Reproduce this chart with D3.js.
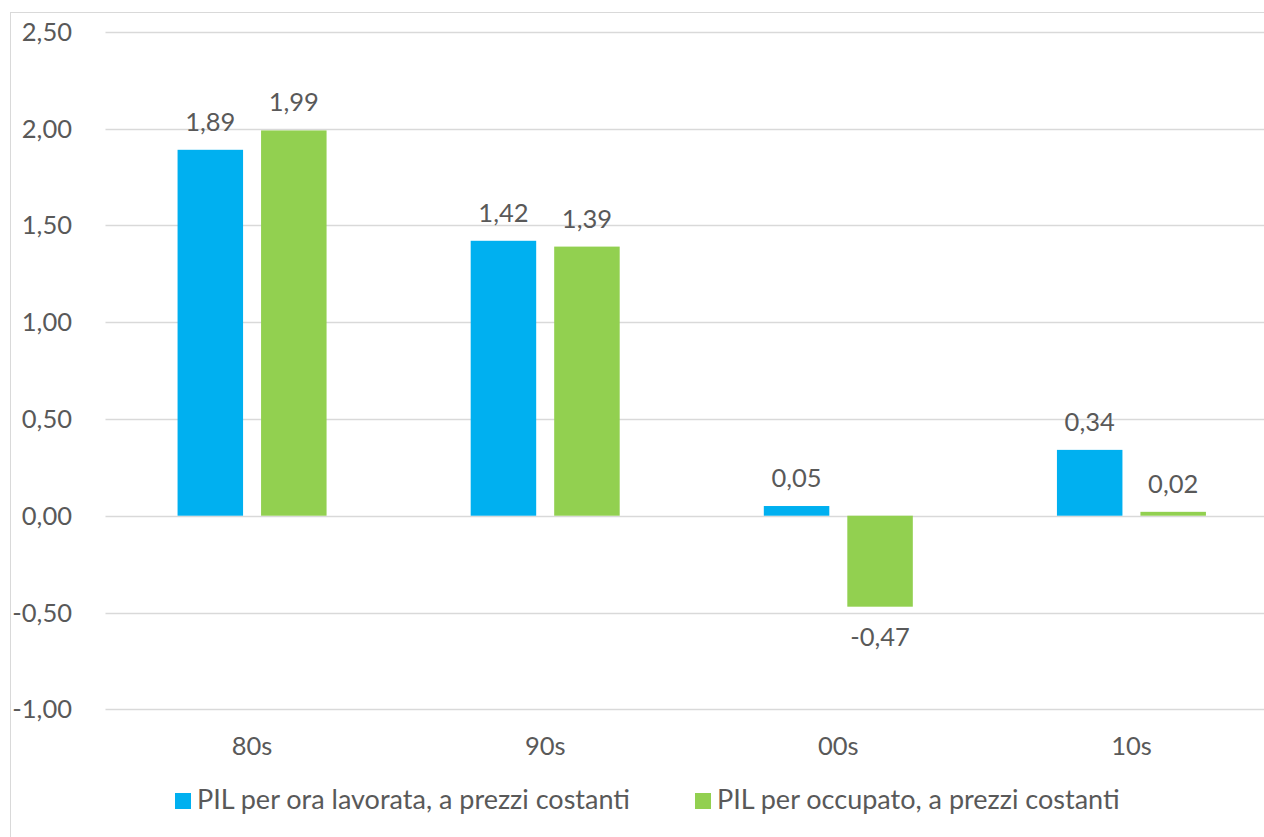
<!DOCTYPE html>
<html>
<head>
<meta charset="utf-8">
<script src="https://cdn.jsdelivr.net/npm/d3@7"></script>
<style>
  body { margin: 0; background: #fff; }
  text { font-family: Lato, "Open Sans", sans-serif; fill: #595959; }
</style>
</head>
<body>
<div id="chart"></div>
<script>
// chart data
var categories = ["80s", "90s", "00s", "10s"];
var seriesNames = ["PIL per ora lavorata, a prezzi costanti", "PIL per occupato, a prezzi costanti"];
var perOra = [1.89, 1.42, 0.05, 0.34];
var perOccupato = [1.99, 1.39, -0.47, 0.02];
var yTicks = [-1, -0.5, 0, 0.5, 1, 1.5, 2, 2.5];
var colors = ["#00B0F0", "#92D050"];

var svgWidth = 1264;
var svgHeight = 837;

var plot = { left: 105.5, right: 1278, top: 31.7, bottom: 709.3 };

var svg = d3.select("#chart")
  .append("svg")
  .attr("width", svgWidth)
  .attr("height", svgHeight);

// outer chart border (runs off the right/bottom edge)
svg.append("rect")
  .attr("x", 10.5)
  .attr("y", 12.5)
  .attr("width", 1290)
  .attr("height", 840)
  .attr("fill", "none")
  .attr("stroke", "#D9D9D9");

var fmt = function (v) { return d3.format(".2f")(v).replace(".", ",").replace("−", "-"); };

var x = d3.scaleBand()
  .domain(categories)
  .range([plot.left, plot.right]);

var y = d3.scaleLinear()
  .domain([-1, 2.5])
  .range([plot.bottom, plot.top]);

var barW = 65.5;
var gap = 18;

// gridlines
svg.append("g")
  .selectAll("line")
  .data(yTicks)
  .enter()
  .append("line")
  .attr("x1", plot.left)
  .attr("x2", plot.right)
  .attr("y1", d => Math.round(y(d)) + 0.5)
  .attr("y2", d => Math.round(y(d)) + 0.5)
  .attr("stroke", "#D9D9D9")
  .attr("stroke-width", 1.3);

// y axis labels
svg.append("g")
  .selectAll("text")
  .data(yTicks)
  .enter()
  .append("text")
  .attr("x", 72)
  .attr("y", d => y(d) + 9)
  .attr("text-anchor", "end")
  .style("font-size", "25.5px")
  .text(d => fmt(d));

// bars
var series = [perOra, perOccupato];
series.forEach(function (vals, s) {
  var offset = s === 0 ? -(gap / 2 + barW) : gap / 2;
  var g = svg.append("g");
  g.selectAll("rect")
    .data(vals)
    .enter()
    .append("rect")
    .attr("x", (d, i) => x(categories[i]) + x.bandwidth() / 2 + offset)
    .attr("y", d => y(Math.max(0, d)))
    .attr("width", barW)
    .attr("height", d => Math.max(1.5, Math.abs(y(d) - y(0))))
    .attr("fill", colors[s]);

  g.selectAll("text")
    .data(vals)
    .enter()
    .append("text")
    .attr("x", (d, i) => x(categories[i]) + x.bandwidth() / 2 + offset + barW / 2)
    .attr("y", d => d >= 0 ? y(d) - 19 : y(d) + 39)
    .attr("text-anchor", "middle")
    .style("font-size", "25.5px")
    .text(d => fmt(d));
});

// category labels
svg.append("g")
  .selectAll("text")
  .data(categories)
  .enter()
  .append("text")
  .attr("x", d => x(d) + x.bandwidth() / 2)
  .attr("y", 755)
  .attr("text-anchor", "middle")
  .style("font-size", "25.5px")
  .text(d => d);

// legend
var legendX = [175, 695];
var legend = svg.append("g");
seriesNames.forEach(function (name, s) {
  legend.append("rect")
    .attr("x", legendX[s])
    .attr("y", 793)
    .attr("width", 16)
    .attr("height", 16)
    .attr("fill", colors[s]);
  legend.append("text")
    .attr("x", legendX[s] + 22)
    .attr("y", 809)
    .style("font-size", "27px")
    .text(name);
});
</script>
</body>
</html>
